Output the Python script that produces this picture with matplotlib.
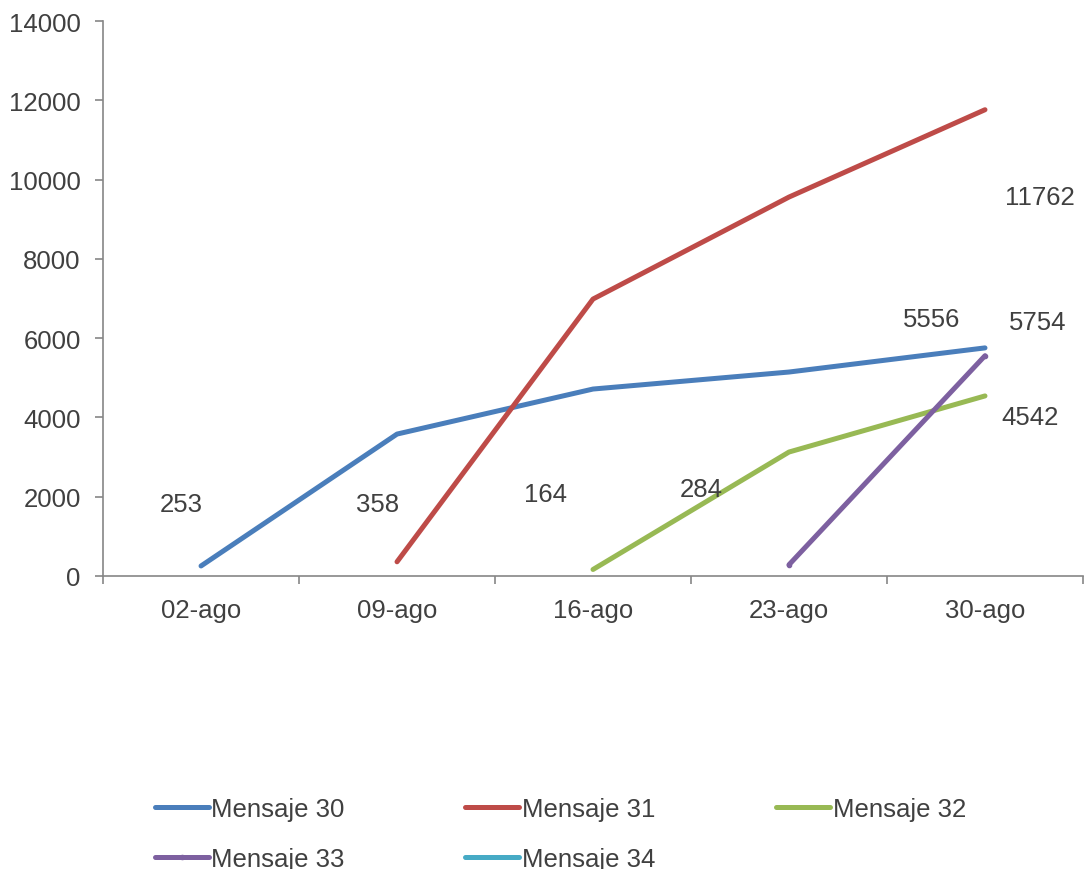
import numpy as np
import matplotlib.pyplot as plt

plt.rcParams['font.family'] = ['Liberation Sans', 'DejaVu Sans']

# Data
fechas = ["02-ago", "09-ago", "16-ago", "23-ago", "30-ago"]
mensaje_30 = [253, 3580, 4716, 5145, 5754]
mensaje_31 = [np.nan, 358, 6986, 9559, 11762]
mensaje_32 = [np.nan, np.nan, 164, 3127, 4542]
mensaje_33 = [np.nan, np.nan, np.nan, 284, 5556]
mensaje_34 = [np.nan, np.nan, np.nan, np.nan, np.nan]

series = [
    ("Mensaje 30", mensaje_30, "#4A7EBB", None),
    ("Mensaje 31", mensaje_31, "#BE4B48", None),
    ("Mensaje 32", mensaje_32, "#98B954", None),
    ("Mensaje 33", mensaje_33, "#7D60A0", "o"),
    ("Mensaje 34", mensaje_34, "#46AAC5", None),
]

# data labels (value, x position, y position) as placed in the original
etiquetas = [
    ("253", -0.10, 1816),
    ("358", 0.90, 1816),
    ("164", 1.76, 2068),
    ("284", 2.55, 2194),
    ("5556", 3.73, 6482),
    ("5754", 4.27, 6406),
    ("11762", 4.28, 9559),
    ("4542", 4.23, 4010),
]

texto = "#404040"
eje = "#868686"
fs = 18.5

fig = plt.figure(figsize=(10.87, 8.7), dpi=100)
ax = fig.add_axes([0.0948, 0.3368, 0.9015, 0.6379])

x = np.arange(len(fechas))
lines = []
for nombre, vals, color, mk in series:
    ln, = ax.plot(x, vals, color=color, lw=3.6, solid_capstyle="round",
                  marker=mk, markersize=3 if mk else 0, label=nombre)
    lines.append(ln)

for t, xx, yy in etiquetas:
    ax.text(xx, yy, t, ha="center", va="center", fontsize=fs, color=texto)

ax.set_xlim(-0.5, len(fechas) - 0.5)
ax.set_ylim(0, 14000)
ax.set_yticks(np.arange(0, 14001, 2000))
ax.set_xticks(x)
ax.set_xticklabels(fechas)
ax.set_xticks(np.arange(-0.5, len(fechas), 1), minor=True)
ax.tick_params(axis="x", which="major", length=0, pad=16, labelsize=fs, labelcolor=texto)
ax.tick_params(axis="x", which="minor", length=6, width=1.2, color=eje)
ax.tick_params(axis="y", length=6, width=1.2, color=eje, pad=10, labelsize=fs, labelcolor=texto)

for s in ["top", "right"]:
    ax.spines[s].set_visible(False)
for s in ["left", "bottom"]:
    ax.spines[s].set_color(eje)
    ax.spines[s].set_linewidth(1.2)

# legend is filled column by column, so reorder to read row by row
orden = [0, 3, 1, 4, 2]
fig.legend(handles=[lines[i] for i in orden], loc="upper left", bbox_to_anchor=(0.1306, 0.0977),
           ncol=3, frameon=False, fontsize=fs, handlelength=2.1, handletextpad=0.1,
           columnspacing=4.7, labelspacing=1.0, borderpad=0, labelcolor=texto)

fig.savefig("out.png", dpi=100)
